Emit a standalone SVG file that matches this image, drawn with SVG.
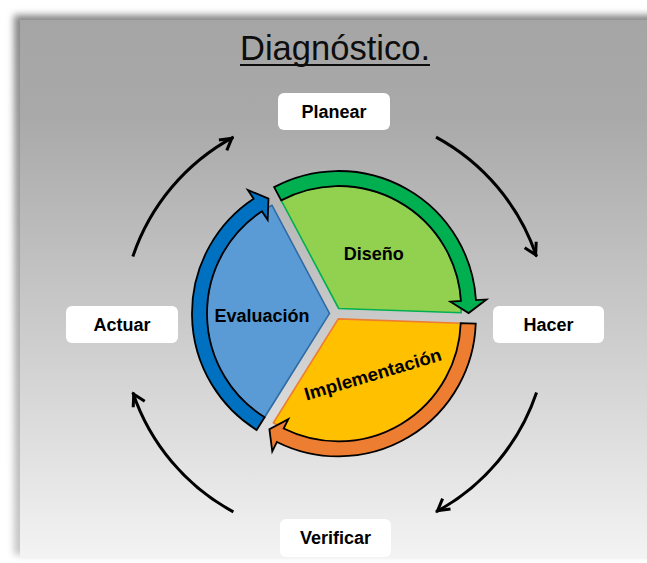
<svg xmlns="http://www.w3.org/2000/svg" width="647" height="563" viewBox="0 0 647 563">
  <defs>
    <linearGradient id="bg" x1="0" y1="0" x2="0" y2="1">
      <stop offset="0" stop-color="#a5a5a5"/>
      <stop offset="0.18" stop-color="#a9a9a9"/>
      <stop offset="0.55" stop-color="#c9c9c9"/>
      <stop offset="1" stop-color="#f3f3f3"/>
    </linearGradient>
    <linearGradient id="sh" x1="0" y1="0" x2="0" y2="1">
      <stop offset="0" stop-color="#858585"/>
      <stop offset="1" stop-color="#c8c8c8"/>
    </linearGradient>
    <filter id="blur" x="-5%" y="-5%" width="110%" height="110%">
      <feGaussianBlur stdDeviation="3.5"/>
    </filter>
    <marker id="head" markerUnits="userSpaceOnUse" markerWidth="30" markerHeight="30" refX="0" refY="0" orient="auto" overflow="visible">
      <path d="M-12.08,8.49 L-1.98,0.31 L-14.12,-4.35" fill="none" stroke="#000" stroke-width="3" stroke-linejoin="miter"/>
    </marker>
    <path id="wedge" d="M0,0 L-57.51,-108.16 A122.5,122.5 0 0 1 122.43,4.275 Z"/>
    <path id="band" d="M-64.55,-121.41 A137.5,137.5 0 0 1 137.24,-8.39 L147.72,-9.04 L129.92,4.54 L111.79,-6.84 L122.27,-7.48 A122.5,122.5 0 0 0 -57.51,-108.16 Z"/>
  </defs>
  <style>
    .box { fill: #ffffff; }
    .lbl { font-family: "Liberation Sans", Arial, sans-serif; font-weight: bold; font-size: 18px; fill: #000; text-anchor: middle; }
    .arc { fill: none; stroke: #000; stroke-width: 3; marker-end: url(#head); }
    .bandline { stroke: #000; stroke-width: 1.8; stroke-linejoin: miter; }
    .edge { stroke-width: 1.6; stroke-linejoin: miter; }
  </style>

  <g id="background">
    <rect x="14" y="15" width="650" height="540" fill="url(#sh)" filter="url(#blur)"/>
    <rect x="20" y="20" width="640" height="537" fill="url(#bg)"/>
  </g>

  <g id="title">
    <text x="335" y="60" font-family="'Liberation Sans', Arial, sans-serif" font-size="34.5" fill="#0d0d0d" text-anchor="middle" textLength="190" lengthAdjust="spacingAndGlyphs">Diagnóstico.</text>
    <line x1="240" y1="65" x2="430" y2="65" stroke="#0d0d0d" stroke-width="2"/>
  </g>

  <g id="connectors">
    <path class="arc" d="M132.83,256.56 A213,213 0 0 1 233.39,137.13"/>
    <path class="arc" d="M436.01,137.13 A213,213 0 0 1 536.57,256.56"/>
    <path class="arc" d="M536.57,392.44 A213,213 0 0 1 436.01,511.87"/>
    <path class="arc" d="M233.39,511.87 A213,213 0 0 1 132.83,392.44"/>
  </g>

  <g id="planear">
    <rect class="box" x="278" y="93" width="112" height="37" rx="6"/>
    <text class="lbl" x="334" y="117.5">Planear</text>
  </g>
  <g id="hacer">
    <rect class="box" x="493" y="306" width="111" height="37" rx="6"/>
    <text class="lbl" x="548.5" y="330.5">Hacer</text>
  </g>
  <g id="verificar">
    <rect class="box" x="280" y="519" width="111" height="38" rx="6"/>
    <text class="lbl" x="335.5" y="543.5">Verificar</text>
  </g>
  <g id="actuar">
    <rect class="box" x="66" y="306" width="112" height="37" rx="6"/>
    <text class="lbl" x="122" y="330.5">Actuar</text>
  </g>

  <g id="diseno">
    <g transform="translate(338.7,308.5)">
      <use href="#wedge" fill="#92d050" stroke="#00b050" class="edge"/>
      <use href="#band" fill="#00b050" class="bandline"/>
    </g>
    <text class="lbl" x="373.7" y="260">Diseño</text>
  </g>

  <g id="evaluacion">
    <g transform="translate(329.5,313.4) rotate(-120)">
      <use href="#wedge" fill="#5b9bd5" stroke="#2e6aa3" class="edge"/>
      <use href="#band" fill="#0070c0" class="bandline"/>
    </g>
    <text class="lbl" x="262" y="321.7">Evaluación</text>
  </g>

  <g id="implementacion">
    <g transform="translate(338.3,318.9) rotate(120)">
      <use href="#wedge" fill="#ffc000" stroke="#ed7d31" class="edge"/>
      <use href="#band" fill="#ed7d31" class="bandline"/>
    </g>
    <text class="lbl" transform="translate(374.7,380.3) rotate(-16.5)" x="0" y="0" textLength="142" lengthAdjust="spacingAndGlyphs">Implementación</text>
  </g>
</svg>
